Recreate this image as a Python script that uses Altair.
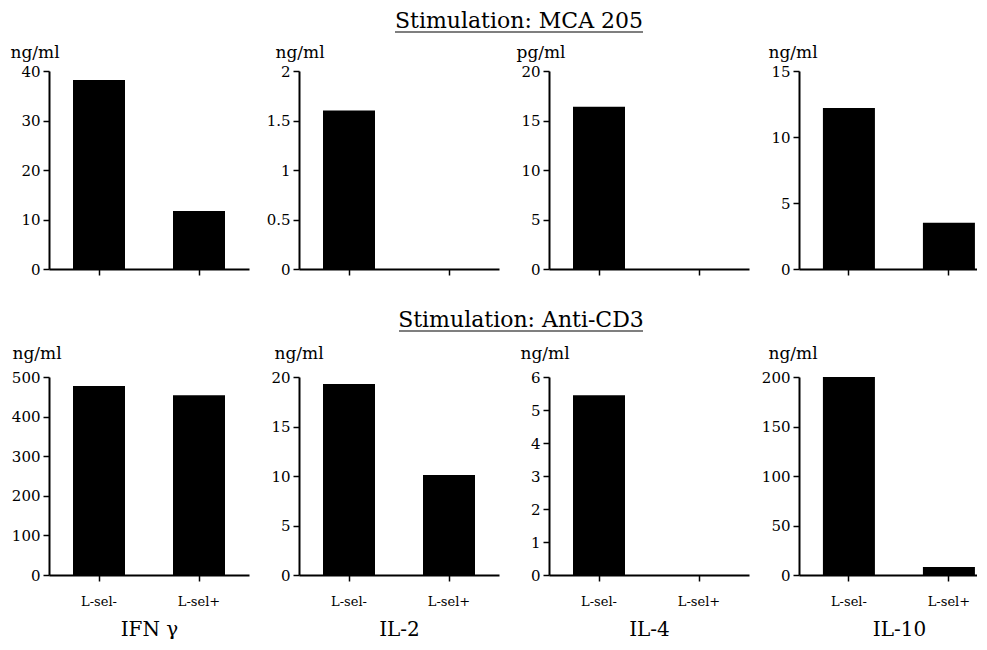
import altair as alt
import pandas as pd

groups = ["L-sel-", "L-sel+"]
cytokines = ["IFN γ", "IL-2", "IL-4", "IL-10"]
sections = ["Stimulation: MCA 205", "Stimulation: Anti-CD3"]

# Row 1: stimulation with MCA 205
mca_values = [[38.2, 11.7], [1.6, 0.0], [16.4, 0.0], [12.2, 3.5]]
mca_units = ["ng/ml", "ng/ml", "pg/ml", "ng/ml"]
mca_ticks = [[0, 10, 20, 30, 40], [0, 0.5, 1, 1.5, 2], [0, 5, 10, 15, 20], [0, 5, 10, 15]]

# Row 2: stimulation with anti-CD3
cd3_values = [[477, 454], [19.3, 10.1], [5.45, 0.0], [200, 8]]
cd3_units = ["ng/ml", "ng/ml", "ng/ml", "ng/ml"]
cd3_ticks = [[0, 100, 200, 300, 400, 500], [0, 5, 10, 15, 20], [0, 1, 2, 3, 4, 5, 6], [0, 50, 100, 150, 200]]

FONT = "DejaVu Serif"
H = 198
# the last panel is cut by the right edge of the figure
widths = [200, 200, 200, 178]

# styling offsets (pixels) for the unit labels above each y axis
unit_dx_top = [-39, -24, -33, -31]
unit_dx_bot = [-37, -25, -29, -31]


def panel(values, unit, ticks, unit_dx, unit_dy, bottom, name, width):
    df = pd.DataFrame({"group": groups, "value": values})
    if width == 200:
        xscale = alt.Scale(paddingInner=0.48, paddingOuter=0.24)
    else:
        xscale = alt.Scale(paddingInner=0.48, paddingOuter=0.13, align=0.92)
    xaxis = alt.Axis(
        title=name if bottom else None,
        labels=bottom,
        labelAngle=0,
        labelFont=FONT,
        labelFontSize=13,
        labelColor="black",
        labelPadding=14,
        titleFont=FONT,
        titleFontSize=20,
        titleFontWeight="normal",
        titleColor="black",
        titleX=100,
        titleY=60,
        titleBaseline="alphabetic",
        domainColor="black",
        domainWidth=2,
        tickColor="black",
        tickWidth=1.5,
        tickSize=6,
        grid=False,
    )
    yaxis = alt.Axis(
        values=ticks,
        format=".1~f",
        title=unit,
        titleAngle=0,
        titleX=unit_dx,
        titleY=unit_dy,
        titleAlign="left",
        titleBaseline="alphabetic",
        titleFont=FONT,
        titleFontSize=17,
        titleFontWeight="normal",
        titleColor="black",
        labelFont=FONT,
        labelFontSize=15,
        labelColor="black",
        labelPadding=3,
        domainColor="black",
        domainWidth=2,
        tickColor="black",
        tickWidth=1.5,
        tickSize=6,
        grid=False,
    )
    return (
        alt.Chart(df)
        .mark_bar(color="black")
        .encode(
            x=alt.X("group:N", sort=groups, scale=xscale, axis=xaxis),
            y=alt.Y("value:Q", scale=alt.Scale(domain=[0, ticks[-1]], nice=False), axis=yaxis),
        )
        .properties(width=width, height=H)
    )


def section_title(text, tx, ty, x1, x2, uy):
    tdf = pd.DataFrame({"t": [text]})
    label = (
        alt.Chart(tdf)
        .mark_text(font=FONT, fontSize=22, color="black", align="center", baseline="alphabetic")
        .encode(text="t:N", x=alt.value(tx), y=alt.value(ty))
    )
    line = (
        alt.Chart(tdf)
        .mark_rule(color="black", strokeWidth=1.2)
        .encode(x=alt.value(x1), x2=alt.value(x2), y=alt.value(uy))
    )
    return label + line


top = [panel(mca_values[i], mca_units[i], mca_ticks[i], unit_dx_top[i], -14, False, cytokines[i], widths[i])
       for i in range(4)]
bot = [panel(cd3_values[i], cd3_units[i], cd3_ticks[i], unit_dx_bot[i], -19, True, cytokines[i], widths[i])
       for i in range(4)]

top[1] = alt.layer(top[1], section_title(sections[0], 220, -43, 96, 344, -39))
bot[1] = alt.layer(bot[1], section_title(sections[1], 222, -50, 100, 344, -46))

chart = (
    alt.concat(*(top + bot), columns=4, spacing={"row": 108, "column": 50}, bounds="flush")
    .properties(padding={"left": 2, "top": 2, "right": 0, "bottom": 0})
    .configure(background="white")
    .configure_view(stroke="transparent", strokeWidth=0)
)

chart.save("out.html", embed_options={"renderer": "svg", "actions": False})
